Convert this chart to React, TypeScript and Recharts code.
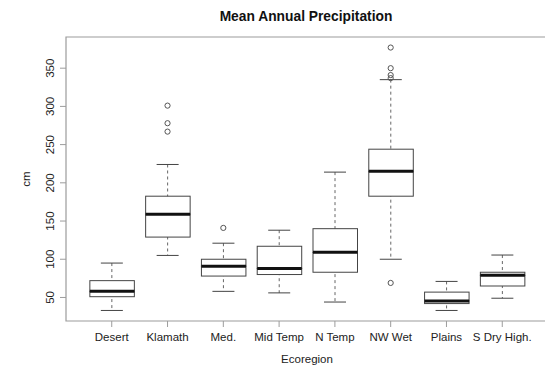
import {
  Bar,
  ComposedChart,
  ReferenceArea,
  Scatter,
  XAxis,
  YAxis,
} from "recharts";

const categories = [
  "Desert",
  "Klamath",
  "Med.",
  "Mid Temp",
  "N Temp",
  "NW Wet",
  "Plains",
  "S Dry High.",
];
const mins = [33, 105, 58, 56, 44, 100, 33, 49];
const q1s = [51, 129, 78, 80, 83, 182.5, 42, 65];
const medians = [58, 159, 91, 88, 109, 215, 45.5, 79];
const q3s = [72, 182.5, 100, 117, 140, 244, 57, 83];
const maxs = [95, 224, 121, 138, 214, 335, 71, 105.5];

// outliers: index of ecoregion + value
const outlierCat = [1, 1, 1, 2, 5, 5, 5, 5, 5];
const outlierVal = [267, 278, 301, 141, 69, 337, 341, 350, 377];

const yTicks = [50, 100, 150, 200, 250, 300, 350];

const rows = categories.map((name, i) => ({
  name,
  pos: i + 1,
  whisker: [mins[i], maxs[i]],
  lower: [q1s[i], medians[i]],
  upper: [medians[i], q3s[i]],
}));

const outliers = outlierCat.map((c, i) => ({ pos: c + 1, value: outlierVal[i] }));

const X_DOMAIN: [number, number] = [0.18, 8.82];
const Y_DOMAIN: [number, number] = [19.2, 390.8];
const FONT = "'Liberation Sans', Arial, sans-serif";
const TEXT = "#222";
const FRAME = "#9c9c9c";
const LINE = "#444";

const Whisker = (props: any) => {
  const { x, y, width, height } = props;
  const cx = x + width / 2;
  return (
    <g>
      <line x1={cx} x2={cx} y1={y} y2={y + height} stroke="#666" strokeDasharray="3 3" />
      <line x1={x} x2={x + width} y1={y} y2={y} stroke={LINE} />
      <line x1={x} x2={x + width} y1={y + height} y2={y + height} stroke={LINE} />
    </g>
  );
};

const LowerBox = (props: any) => {
  const { x, y, width, height } = props;
  return <rect x={x} y={y} width={width} height={height} fill="#fff" stroke={LINE} />;
};

const UpperBox = (props: any) => {
  const { x, y, width, height } = props;
  return (
    <g>
      <rect x={x} y={y} width={width} height={height} fill="#fff" stroke={LINE} />
      <line x1={x} x2={x + width} y1={y + height} y2={y + height} stroke="#111" strokeWidth={3} />
    </g>
  );
};

const Outlier = (props: any) => (
  <circle cx={props.cx} cy={props.cy} r={2.6} fill="none" stroke="#555" />
);

const XTick = (props: any) => {
  const { x, y, payload } = props;
  return (
    <text x={x} y={y + 14} textAnchor="middle" fontSize={11.5} fontFamily={FONT} fill={TEXT}>
      {categories[payload.value - 1]}
    </text>
  );
};

const YTick = (props: any) => {
  const { x, y, payload } = props;
  return (
    <text
      x={x - 5.6}
      y={y}
      textAnchor="middle"
      fontSize={11.5}
      fontFamily={FONT}
      fill={TEXT}
      transform={`rotate(-90 ${x - 5.6} ${y})`}
    >
      {payload.value}
    </text>
  );
};

const XTitle = (props: any) => {
  const { x, y, width } = props.viewBox;
  return (
    <text x={x + width / 2} y={y + 41.5} textAnchor="middle" fontSize={11.5} fontFamily={FONT} fill={TEXT}>
      Ecoregion
    </text>
  );
};

const YTitle = (props: any) => {
  const { y, height } = props.viewBox;
  const cx = 30.3;
  const cy = y + height / 2;
  return (
    <text
      x={cx}
      y={cy}
      textAnchor="middle"
      fontSize={11.5}
      fontFamily={FONT}
      fill={TEXT}
      transform={`rotate(-90 ${cx} ${cy})`}
    >
      cm
    </text>
  );
};

export default function App() {
  return (
    <div
      style={{
        position: "absolute",
        left: 0,
        top: 0,
        width: 545,
        height: 370,
        overflow: "hidden",
        background: "#fff",
      }}
    >
      <div
        style={{
          position: "absolute",
          left: 66,
          top: 9,
          width: 480,
          textAlign: "center",
          fontFamily: FONT,
          fontWeight: "bold",
          fontSize: 13.8,
          lineHeight: "16px",
          color: "#111",
        }}
      >
        Mean Annual Precipitation
      </div>
      <ComposedChart
        width={560}
        height={370}
        data={rows}
        margin={{ top: 37, right: 12, bottom: 19, left: 16 }}
      >
        <XAxis
          xAxisId={0}
          type="number"
          dataKey="pos"
          domain={X_DOMAIN}
          allowDataOverflow
          ticks={[1, 2, 3, 4, 5, 6, 7, 8]}
          axisLine={false}
          tickLine={{ stroke: FRAME }}
          tickSize={6}
          tickMargin={0}
          tick={<XTick />}
          height={30}
          label={<XTitle />}
          interval={0}
        />
        <XAxis xAxisId="w" type="number" dataKey="pos" domain={X_DOMAIN} allowDataOverflow hide height={0} />
        <XAxis xAxisId="lo" type="number" dataKey="pos" domain={X_DOMAIN} allowDataOverflow hide height={0} />
        <XAxis xAxisId="hi" type="number" dataKey="pos" domain={X_DOMAIN} allowDataOverflow hide height={0} />
        <YAxis
          type="number"
          domain={Y_DOMAIN}
          allowDataOverflow
          ticks={yTicks}
          axisLine={false}
          tickLine={{ stroke: FRAME }}
          tickSize={6}
          tickMargin={0}
          tick={<YTick />}
          width={50}
          label={<YTitle />}
          interval={0}
        />
        <ReferenceArea
          xAxisId={0}
          x1={X_DOMAIN[0]}
          x2={X_DOMAIN[1]}
          y1={Y_DOMAIN[0]}
          y2={Y_DOMAIN[1]}
          fill="none"
          stroke={FRAME}
          strokeWidth={1.2}
          fillOpacity={0}
        />
        <Bar xAxisId="w" dataKey="whisker" barSize={22} shape={<Whisker />} isAnimationActive={false} />
        <Bar xAxisId="lo" dataKey="lower" barSize={44.5} shape={<LowerBox />} isAnimationActive={false} />
        <Bar xAxisId="hi" dataKey="upper" barSize={44.5} shape={<UpperBox />} isAnimationActive={false} />
        <Scatter
          xAxisId={0}
          data={outliers}
          dataKey="value"
          shape={<Outlier />}
          isAnimationActive={false}
        />
      </ComposedChart>
    </div>
  );
}
